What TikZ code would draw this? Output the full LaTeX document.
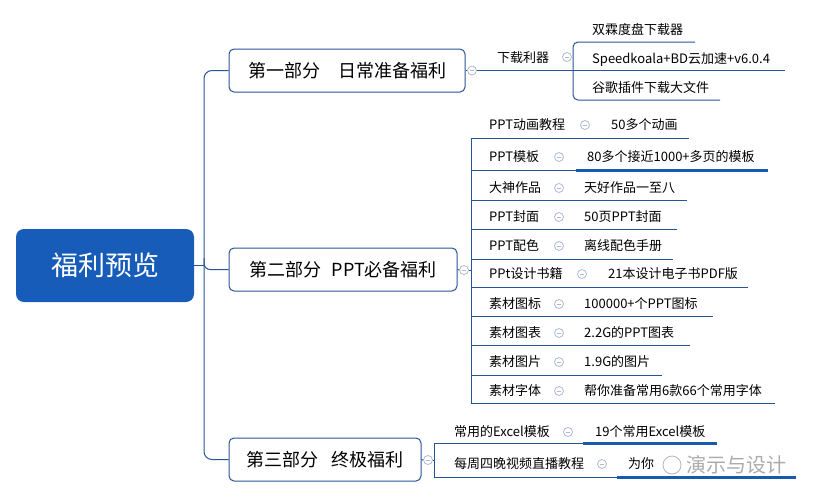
\documentclass[tikz,border=0pt]{standalone}
\usepackage{fontspec}
\setmainfont{Noto Sans CJK SC}
\definecolor{linec}{RGB}{40,84,150}
\definecolor{rootc}{RGB}{22,92,184}
\definecolor{hic}{RGB}{24,90,175}
\definecolor{iconc}{RGB}{175,185,212}
\definecolor{wmc}{RGB}{150,150,150}
\tikzset{
  lbl/.style={anchor=base west, inner sep=0pt, font=\fontsize{13}{13}\selectfont},
  topbox/.style={draw=linec, line width=1pt, rounded corners=5pt, fill=white, inner sep=0pt,
    minimum height=43pt, font=\fontsize{18}{18}\selectfont},
  rootbox/.style={fill=rootc, rounded corners=8pt, inner sep=0pt, minimum width=178pt,
    minimum height=73pt, text=white, font=\fontsize{27}{27}\selectfont},
  conn/.style={draw=linec, line width=1pt},
  hiline/.style={draw=hic, line width=3pt},
  icon/.style={circle, draw=iconc, fill=white, line width=0.8pt, minimum size=9pt, inner sep=0pt,
    path picture={\draw[iconc, line width=0.8pt] ([xshift=2.2pt]path picture bounding box.west) -- ([xshift=-2.2pt]path picture bounding box.east);}},
}
\begin{document}
\begin{tikzpicture}[x=1pt,y=-1pt]
\useasboundingbox (0,0) rectangle (814,498);
% main topics
\node[rootbox] (root) at (105,265.5) {福利预览};
\node[topbox, minimum width=236pt] (b1) at (347,70.5) {第一部分\hspace{1em}日常准备福利};
\node[topbox, minimum width=228pt] (b2) at (343,269.5) {第二部分\hspace{0.6em}PPT必备福利};
\node[topbox, minimum width=192pt] (b3) at (325,459.5) {第三部分\hspace{0.7em}终极福利};
% trunk
\coordinate (tr) at (204,265.5);
\draw[conn] (root.east) -- (tr);
\draw[conn, rounded corners=8pt] (b1.west) -| (204,300) |- (b3.west);
\draw[conn, rounded corners=6pt] (204,258) |- (b2.west);

% ---------- section 1
\node[icon] (i1) at (472,70.5) {};
\coordinate (e1) at (785,70.5);
\draw[conn] (b1.east) -- (i1.west);
\draw[conn] (i1.east) -- (e1);
\node[lbl] (l1) at (497,62) {下载利器};
\node[icon] (i1a) at (567,57) {};
\coordinate (s1t) at (695,42);
\coordinate (s1b) at (720,100);
\draw[conn, rounded corners=5pt] (s1t) -- (573,42) -- (573,100) -- (s1b);
\node[lbl] (k1) at (592,34) {双霖度盘下载器};
\node[lbl] (k2) at (592,63) {Speedkoala+BD云加速+v6.0.4};
\node[lbl] (k3) at (592,92) {谷歌插件下载大文件};

% ---------- section 2
\node[icon] (i2) at (464,270) {};
\coordinate (v2) at (471,270);
\draw[conn] (b2.east) -- (i2.west);
\draw[conn] (i2.east) -- (v2);
\coordinate (r1e) at (689,138);
\coordinate (r10e) at (775,403);
\draw[conn] (r1e) -- (471,138) -- (471,403) -- (r10e);
\foreach \yy/\ex [count=\n] in {170/576,200/687,229/677,259/673,287/748,316/713,345/690,375/662}{
  \coordinate (u\n) at (\ex,\yy);
  \draw[conn] (471,\yy) -- (u\n);
}
\coordinate (h2a) at (576,170);
\coordinate (h2b) at (768,170);
\draw[hiline] (h2a) -- (h2b);
\foreach \yy/\lab/\ix/\lx/\leaf [count=\n] in {
  124/PPT动画教程/585/611/50多个动画,
  156/PPT模板/559/587/80多个接近1000+多页的模板,
  187/大神作品/559/584/天好作品一至八,
  216/PPT封面/559/584/50页PPT封面,
  245/PPT配色/559/584/离线配色手册,
  273/PPt设计书籍/582/608/21本设计电子书PDF版,
  303/素材图标/559/584/100000+个PPT图标,
  332/素材图表/559/584/2.2G的PPT图表,
  361/素材图片/559/584/1.9G的图片,
  390/素材字体/559/584/帮你准备常用6款66个常用字体}{
  \node[lbl] (p\n) at (489,\yy+5) {\lab};
  \node[icon] (pi\n) at (\ix,\yy+1) {};
  \node[lbl] (q\n) at (\lx,\yy+5) {\leaf};
}

% ---------- section 3
\node[icon] (i3) at (428,460) {};
\coordinate (v3) at (434,460);
\draw[conn] (b3.east) -- (i3.west);
\draw[conn] (i3.east) -- (v3);
\coordinate (x1) at (583,443);
\coordinate (x2) at (617,477);
\draw[conn] (x1) -- (434,443) -- (434,477) -- (x2);
\coordinate (x1e) at (717,443);
\coordinate (x2e) at (796,477);
\draw[hiline] (x1) -- (x1e);
\draw[hiline] (x2) -- (x2e);
\node[lbl] (m1) at (454,436) {常用的Excel模板};
\node[icon] (mi1) at (568,432) {};
\node[lbl] (n1) at (595,436) {19个常用Excel模板};
\node[lbl] (m2) at (454,468) {每周四晚视频直播教程};
\node[icon] (mi2) at (602,464) {};
\node[lbl] (n2) at (628,468) {为你};
% watermark
\node[circle, draw=wmc, line width=0.8pt, minimum size=18pt, inner sep=0pt, opacity=0.7] (wm) at (672,465) {};
\node[anchor=base west, inner sep=0pt, text=wmc, text opacity=0.8, font=\fontsize{20}{20}\selectfont] (wmt) at (686,472) {演示与设计};
\end{tikzpicture}
\end{document}
